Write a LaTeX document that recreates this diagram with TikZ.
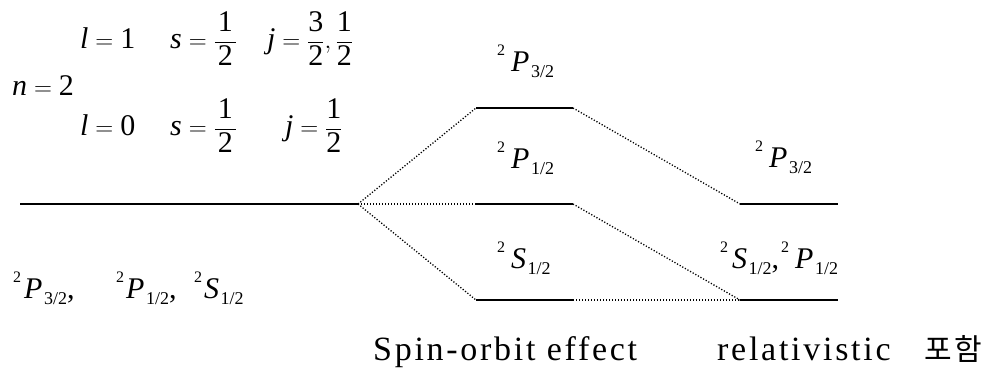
\documentclass[tikz,border=0pt]{standalone}
\usepackage{fontspec}
\setmainfont{Liberation Serif}
\newfontfamily\spaced[LetterSpace=8]{Liberation Serif}
\newfontfamily\kr{Noto Sans CJK KR}
\newcommand{\vi}[1]{\mbox{\itshape #1}}
\newcommand{\fr}[2]{\displaystyle\frac{\hspace{3pt}\mbox{#1}\hspace{3pt}}{\hspace{3pt}\mbox{#2}\hspace{3pt}}}
\newcommand{\termg}[3]{\raisebox{16pt}{\fontsize{16}{16}\selectfont 2}\hspace{#1}\textit{#2}\hspace{1.5pt}\raisebox{-6pt}{\fontsize{18}{18}\selectfont #3}}
\newcommand{\term}[2]{\termg{6pt}{#1}{#2}}
\begin{document}
\begin{tikzpicture}[x=1pt,y=-1pt,
  txt/.style={anchor=base west, inner sep=0pt, font=\fontsize{30}{36}\selectfont},
  big/.style={anchor=base west, inner sep=0pt, font=\fontsize{34}{40}\selectfont},
  level/.style={line width=2pt},
  link/.style={line width=1.3pt, dash pattern=on 1.2pt off 1.8pt}]
\useasboundingbox (0,0) rectangle (994,372);
% level coordinates
\coordinate (L) at (20,204);
\coordinate (O) at (358,204);
\coordinate (m1a) at (476,108); \coordinate (m1b) at (573,108);
\coordinate (m2a) at (476,204); \coordinate (m2b) at (573,204);
\coordinate (m3a) at (476,300); \coordinate (m3b) at (573,300);
\coordinate (r1a) at (740,204); \coordinate (r1b) at (838,204);
\coordinate (r2a) at (740,300); \coordinate (r2b) at (838,300);
% levels
\draw[line width=1.5pt] (L) -- (O);
\draw[level] (m1a) -- (m1b);
\draw[level] (m2a) -- (m2b);
\draw[level] (m3a) -- (m3b);
\draw[level] (r1a) -- (r1b);
\draw[level] (r2a) -- (r2b);
% links
\draw[link] (O) -- (m1a);
\draw[link] (O) -- (m2a);
\draw[link] (O) -- (m3a);
\draw[link] (m1b) -- (r1a);
\draw[link] (m2b) -- (r2a);
\draw[link] (m3b) -- (r2a);
% quantum numbers
\node[txt] (l1) at (80,48) {$\vi{l}=\mbox{1}$};
\node[txt] (s1) at (170,48) {$\vi{s}=\fr{1}{2}$};
\node[txt] (j1) at (267,48) {$\vi{j}=\displaystyle\frac{\mbox{3}}{\mbox{2}},\frac{\mbox{1}}{\mbox{2}}$};
\node[txt] (n2) at (12,95) {$\vi{n}=\mbox{2}$};
\node[txt] (l0) at (80,135) {$\vi{l}=\mbox{0}$};
\node[txt] (s0) at (170,135) {$\vi{s}=\fr{1}{2}$};
\node[txt] (j0) at (285,135) {$\vi{j}=\displaystyle\frac{\mbox{1}}{\mbox{2}}$};
% term labels
\node[txt] (tP32) at (497,71) {\term{P}{3/2}};
\node[txt] (tP12) at (497,168) {\term{P}{1/2}};
\node[txt] (tS12) at (497,268) {\term{S}{1/2}};
\node[txt] (rP32) at (755,167) {\term{P}{3/2}};
\node[txt] (rSP) at (720,268) {\termg{4pt}{S}{1/2},\hspace{2pt}\term{P}{1/2}};
\node[txt] (b1) at (13,298) {\termg{3pt}{P}{3/2},};
\node[txt] (b2) at (116,298) {\termg{2pt}{P}{1/2},};
\node[txt] (b3) at (194,298) {\termg{2pt}{S}{1/2}};
% captions
\node[big] (cap1) at (373,360) {\spaced Spin-orbit effect};
\node[big] (cap2) at (717,360) {\spaced relativistic};
\node[big] (cap3) at (924,360) {\fontsize{30}{36}\selectfont\kr 포\hspace{3pt}함};
\end{tikzpicture}
\end{document}
